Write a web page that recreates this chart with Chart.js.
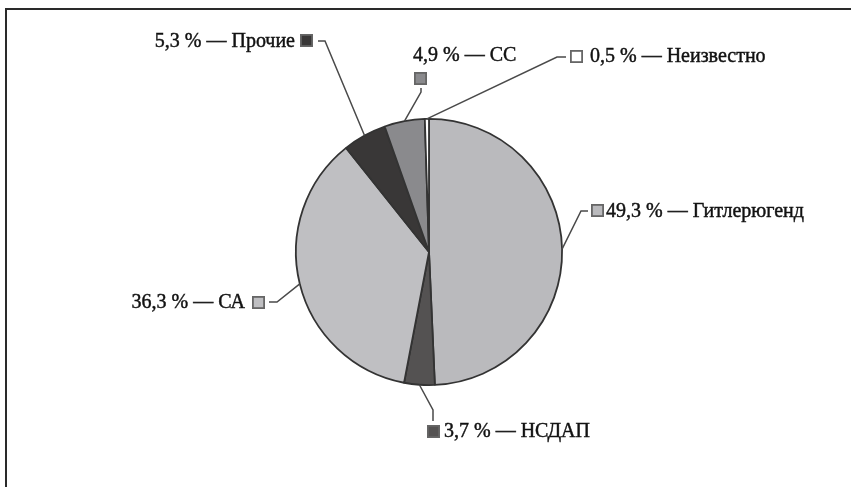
<!DOCTYPE html>
<html>
<head>
<meta charset="utf-8">
<script src="https://cdn.jsdelivr.net/npm/chart.js@4.4.1/dist/chart.umd.min.js"></script>
<style>
  html, body { margin: 0; padding: 0; background: #fff; }
  .wrap { position: relative; width: 851px; height: 487px; }
  .frame {
    position: absolute; left: 5px; top: 8px; right: 0; bottom: 0;
    border-top: 2px solid #2a2a2a; border-left: 2px solid #2a2a2a;
  }
  canvas { position: absolute; left: 0; top: 0; }
</style>
</head>
<body>
<div class="wrap">
  <div class="frame"></div>
  <canvas id="pie" width="851" height="487"></canvas>
</div>
<script>
// Data, clockwise from 12 o'clock
const categories = ['Гитлерюгенд', 'НСДАП', 'СА', 'Прочие', 'СС', 'Неизвестно'];
const shares = [49.3, 3.7, 36.3, 5.3, 4.9, 0.5];
const sliceColors = ['#bababd', '#545252', '#bfbfc2', '#393737', '#8a8a8d', '#ffffff'];

// Label layout: elbow + end of leader line, marker box, text anchor
const labelLayout = [
  { elbow: [581, 211], end: [588, 211], box: [591, 204], text: [606, 212], align: 'left' },
  { elbow: [433, 410], end: [433, 421], box: [427, 425], text: [444, 432], align: 'left' },
  { elbow: [277, 302], end: [269, 302], box: [252, 296], text: [245, 303], align: 'right' },
  { elbow: [325, 41],  end: [318, 41],  box: [300, 34],  text: [295, 42],  align: 'right' },
  { elbow: [421, 92],  end: [421, 88],  box: [414, 72],  text: [413, 56],  align: 'left' },
  { elbow: [557, 57],  end: [566, 57],  box: [570, 50],  text: [590, 57],  align: 'left' }
];

function fmt(v) {
  return v.toFixed(1).replace('.', ',') + ' % — ';
}

const outsideLabels = {
  id: 'outsideLabels',
  afterDatasetsDraw(chart) {
    const ctx = chart.ctx;
    const arcs = chart.getDatasetMeta(0).data;
    ctx.save();
    arcs.forEach((arc, i) => {
      const L = labelLayout[i];
      const mid = (arc.startAngle + arc.endAngle) / 2;
      const ex = arc.x + Math.cos(mid) * arc.outerRadius;
      const ey = arc.y + Math.sin(mid) * arc.outerRadius;

      ctx.strokeStyle = '#4a4a4a';
      ctx.lineWidth = 1.5;
      ctx.beginPath();
      ctx.moveTo(ex, ey);
      ctx.lineTo(L.elbow[0], L.elbow[1]);
      ctx.lineTo(L.end[0], L.end[1]);
      ctx.stroke();

      // marker box
      ctx.fillStyle = sliceColors[i];
      ctx.strokeStyle = '#666';
      ctx.lineWidth = 1.8;
      ctx.fillRect(L.box[0], L.box[1], 13, 13);
      ctx.strokeRect(L.box[0] + 0.9, L.box[1] + 0.9, 11.2, 11.2);

      // label text, slightly thickened like the printed original
      ctx.fillStyle = '#121212';
      ctx.strokeStyle = '#121212';
      ctx.lineWidth = 0.45;
      ctx.font = '20px "Liberation Serif", "Times New Roman", serif';
      ctx.textAlign = L.align;
      ctx.textBaseline = 'middle';
      const txt = fmt(shares[i]) + categories[i];
      ctx.fillText(txt, L.text[0], L.text[1]);
      ctx.strokeText(txt, L.text[0], L.text[1]);
    });
    ctx.restore();
  }
};

new Chart(document.getElementById('pie'), {
  type: 'pie',
  data: {
    labels: categories,
    datasets: [{
      data: shares,
      backgroundColor: sliceColors,
      borderColor: '#333',
      borderWidth: 1.8
    }]
  },
  options: {
    responsive: false,
    animation: false,
    layout: { padding: { left: 295, right: 288, top: 118, bottom: 101 } },
    plugins: {
      legend: { display: false },
      tooltip: { enabled: false }
    }
  },
  plugins: [outsideLabels]
});
</script>
</body>
</html>
